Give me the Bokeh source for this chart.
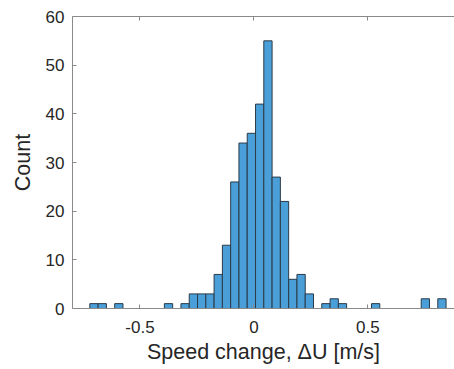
import numpy as np
from bokeh.plotting import figure
from bokeh.models import Range1d, LinearAxis, FixedTicker, ColumnDataSource, CustomJSTickFormatter
from bokeh.embed import file_html
from bokeh.resources import INLINE

# Histogram data: speed change, ΔU [m/s]
edge_min = -0.720
edge_max = 0.843
n_bins = 43
counts = [1, 1, 0, 1, 0, 0, 0, 0, 0, 1,
          0, 1, 3, 3, 3, 7, 13, 26, 34, 36,
          42, 55, 27, 22, 6, 7, 3, 0, 1, 2,
          1, 0, 0, 0, 1, 0, 0, 0, 0, 0,
          2, 0, 2]
x_ticks = [-0.5, 0, 0.5]
x_tick_labels = {-0.5: "-0.5", 0: "0", 0.5: "0.5"}
y_ticks = [0, 10, 20, 30, 40, 50, 60]
x_label = "Speed change, \u0394U [m/s]"
y_label = "Count"

edges = np.linspace(edge_min, edge_max, n_bins + 1)
c = np.array(counts)
mask = c > 0
src = ColumnDataSource(dict(left=edges[:-1][mask], right=edges[1:][mask], top=c[mask]))

FONT = "Liberation Sans"
AX = "#8a8a8a"
TXT = "#262626"

p = figure(width=454, height=369, x_range=Range1d(-0.796, 0.880), y_range=Range1d(0, 60),
           output_backend="svg", toolbar_location=None,
           min_border_left=72, min_border_right=0, min_border_top=16, min_border_bottom=61)
p.outline_line_color = None
p.grid.visible = False
p.background_fill_color = "white"
p.border_fill_color = "white"

p.quad(left="left", right="right", top="top", bottom=0, source=src,
       fill_color="#4a9fd8", line_color="#2b3a48", line_width=1)

for ax in (p.xaxis[0], p.yaxis[0]):
    ax.axis_line_color = AX
    ax.major_tick_line_color = AX
    ax.major_tick_in = 4
    ax.major_tick_out = 0
    ax.minor_tick_line_color = None
    ax.major_label_text_font = FONT
    ax.major_label_text_font_size = "17px"
    ax.major_label_text_color = TXT
    ax.axis_label_text_font = FONT
    ax.axis_label_text_font_size = "21.5px"
    ax.axis_label_text_font_style = "normal"
    ax.axis_label_text_color = TXT

p.xaxis[0].ticker = FixedTicker(ticks=x_ticks)
p.xaxis[0].major_label_overrides = x_tick_labels
p.xaxis[0].axis_label = x_label
p.xaxis[0].major_label_standoff = 12
p.xaxis[0].axis_label_standoff = 4

p.yaxis[0].ticker = FixedTicker(ticks=y_ticks)
p.yaxis[0].axis_label = y_label
p.yaxis[0].major_label_standoff = 8
p.yaxis[0].axis_label_standoff = 8

top = LinearAxis(ticker=FixedTicker(ticks=x_ticks),
                 formatter=CustomJSTickFormatter(code="return ''"))
top.axis_line_color = AX
top.major_tick_line_color = AX
top.major_tick_in = 4
top.major_tick_out = 0
top.minor_tick_line_color = None
top.major_label_standoff = 0
p.add_layout(top, "above")

open("out.html", "w").write(file_html(p, INLINE))
